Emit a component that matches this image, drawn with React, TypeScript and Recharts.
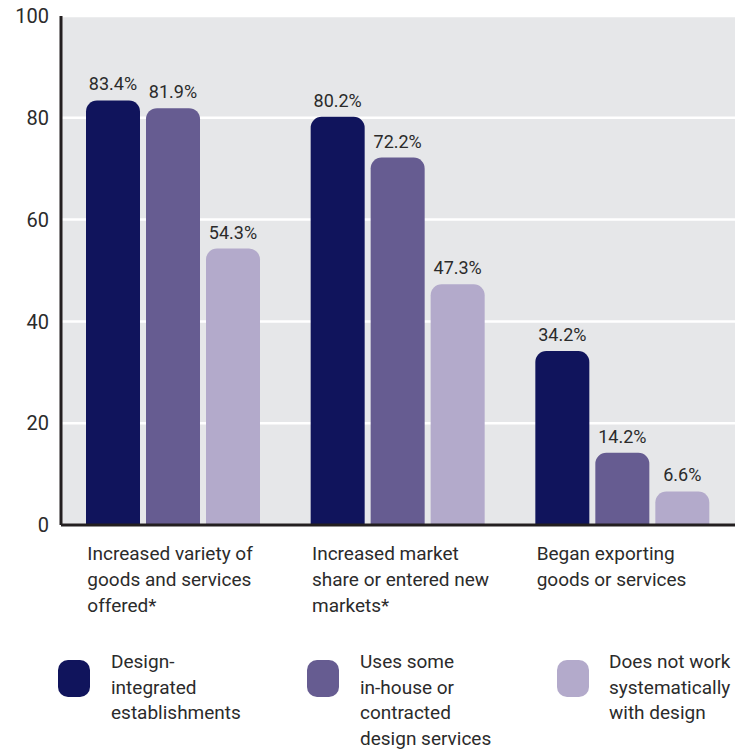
import React from "react";
import { BarChart, Bar, XAxis, YAxis, CartesianGrid, LabelList } from "recharts";

const categories = [
  "Increased variety of goods and services offered*",
  "Increased market share or entered new markets*",
  "Began exporting goods or services",
];
const categoryLines = [
  ["Increased variety of", "goods and services", "offered*"],
  ["Increased market", "share or entered new", "markets*"],
  ["Began exporting", "goods or services"],
];
const seriesNames = [
  "Design-integrated establishments",
  "Uses some in-house or contracted design services",
  "Does not work systematically with design",
];
const legendLines = [
  ["Design-", "integrated", "establishments"],
  ["Uses some", "in-house or", "contracted", "design services"],
  ["Does not work", "systematically", "with design"],
];
const designIntegrated = [83.4, 80.2, 34.2];
const usesSome = [81.9, 72.2, 14.2];
const doesNot = [54.3, 47.3, 6.6];
const yTicks = [0, 20, 40, 60, 80, 100];

const colors = ["#10145c", "#665c91", "#b3aacb"];
const FONT = "Roboto, sans-serif";
const TEXT = "#2b2b2b";

const data = categories.map((c, i) => ({
  name: c,
  idx: i,
  s1: designIntegrated[i],
  s2: usesSome[i],
  s3: doesNot[i],
}));

const XTick = (props: any) => {
  const { x, y, payload } = props;
  const lines = categoryLines[payload.index] || [payload.value];
  return (
    <g>
      {lines.map((l: string, k: number) => (
        <text
          key={k}
          x={x - 86}
          y={y + 33 + k * 26}
          textAnchor="start"
          fill={TEXT}
          fontSize={19}
          fontFamily={FONT}
        >
          {l}
        </text>
      ))}
    </g>
  );
};

const fmt = (v: any) => `${v}%`;

export default function App() {
  const keys = ["s1", "s2", "s3"];
  return (
    <div style={{ position: "absolute", left: 0, top: 0, width: 746, height: 751, background: "#fff" }}>
      <BarChart
        width={746}
        height={640}
        data={data}
        margin={{ top: 16, right: 11, left: 0, bottom: 0 }}
        barGap={6}
        barSize={54}
      >
        <CartesianGrid vertical={false} stroke="#ffffff" strokeWidth={2.5} fill="#e6e7e9" />
        <XAxis
          dataKey="name"
          height={115}
          axisLine={{ stroke: "#231f20", strokeWidth: 3 }}
          tickLine={false}
          tickSize={0}
          interval={0}
          tick={<XTick />}
        />
        <YAxis
          width={61}
          domain={[0, 100]}
          ticks={yTicks}
          axisLine={{ stroke: "#231f20", strokeWidth: 3 }}
          tickLine={false}
          tickSize={0}
          tickMargin={12}
          tick={{ fill: TEXT, fontSize: 20, fontFamily: FONT }}
        />
        {keys.map((k, i) => (
          <Bar key={k} dataKey={k} name={seriesNames[i]} fill={colors[i]} radius={[11, 11, 0, 0]} isAnimationActive={false}>
            <LabelList
              dataKey={k}
              position="top"
              offset={10}
              formatter={fmt}
              fill={TEXT}
              fontSize={18}
              fontFamily={FONT}
            />
          </Bar>
        ))}
      </BarChart>
      {legendLines.map((lines, i) => {
        const sx = [58, 307, 557][i];
        const tx = [111, 360, 609][i];
        return (
          <React.Fragment key={i}>
            <div
              style={{
                position: "absolute",
                left: sx,
                top: 660,
                width: 32,
                height: 37,
                borderRadius: 10,
                background: colors[i],
              }}
            />
            <div
              style={{
                position: "absolute",
                left: tx,
                top: 649,
                fontFamily: FONT,
                fontSize: 19,
                lineHeight: "25.5px",
                color: TEXT,
                whiteSpace: "nowrap",
              }}
            >
              {lines.map((l, k) => (
                <div key={k}>{l}</div>
              ))}
            </div>
          </React.Fragment>
        );
      })}
    </div>
  );
}
